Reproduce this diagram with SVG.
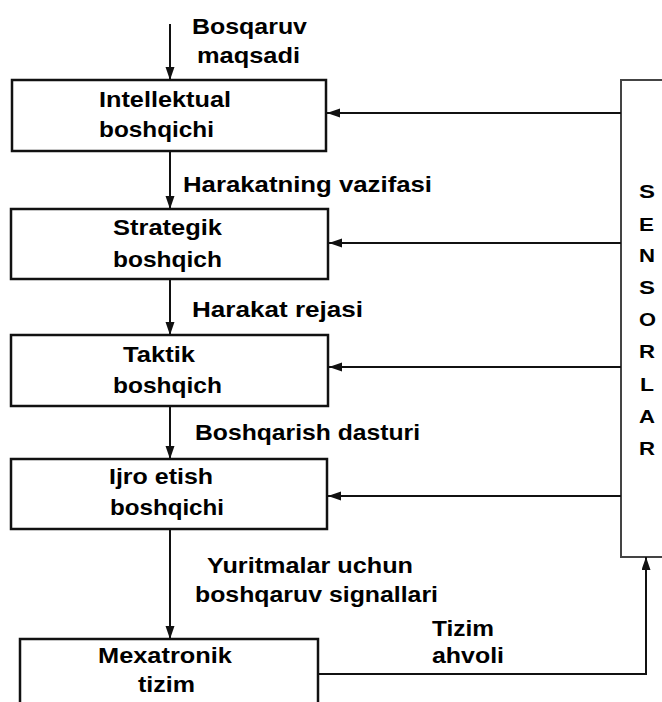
<svg xmlns="http://www.w3.org/2000/svg" width="662" height="702" viewBox="0 0 662 702">
<defs>
<style>
.box{fill:#fff;stroke:#111;stroke-width:2.5}
.sen{fill:#fff;stroke:#444;stroke-width:2}
.ln{fill:none;stroke:#111;stroke-width:2}
text{font-family:"Liberation Sans",Arial,sans-serif;font-weight:bold;font-size:22px;fill:#000}
.s{font-size:19px}
</style>
<marker id="ah" markerUnits="userSpaceOnUse" markerWidth="14" markerHeight="10" refX="13" refY="4.5" orient="auto">
<path d="M0,0 L13,4.5 L0,9 z" fill="#111"/>
</marker>
</defs>
<rect width="662" height="702" fill="#fff"/>
<g id="sensorlar">
<rect class="sen" x="621" y="80" width="50" height="477"/>
<text class="s" x="639" y="198" textLength="16" lengthAdjust="spacingAndGlyphs">S</text>
<text class="s" x="639" y="231" textLength="15" lengthAdjust="spacingAndGlyphs">E</text>
<text class="s" x="639" y="262" textLength="16" lengthAdjust="spacingAndGlyphs">N</text>
<text class="s" x="639" y="294" textLength="16" lengthAdjust="spacingAndGlyphs">S</text>
<text class="s" x="639" y="326" textLength="17" lengthAdjust="spacingAndGlyphs">O</text>
<text class="s" x="639" y="358" textLength="16" lengthAdjust="spacingAndGlyphs">R</text>
<text class="s" x="640" y="391" textLength="14" lengthAdjust="spacingAndGlyphs">L</text>
<text class="s" x="639" y="423" textLength="16" lengthAdjust="spacingAndGlyphs">A</text>
<text class="s" x="639" y="455" textLength="16" lengthAdjust="spacingAndGlyphs">R</text>
</g>
<g id="intellektual">
<rect class="box" x="12" y="80" width="314" height="71"/>
<text x="99" y="107" textLength="132" lengthAdjust="spacingAndGlyphs">Intellektual</text>
<text x="99" y="137" textLength="115" lengthAdjust="spacingAndGlyphs">boshqichi</text>
</g>
<g id="strategik">
<rect class="box" x="11" y="209" width="317" height="70"/>
<text x="113" y="235" textLength="109" lengthAdjust="spacingAndGlyphs">Strategik</text>
<text x="113" y="267" textLength="109" lengthAdjust="spacingAndGlyphs">boshqich</text>
</g>
<g id="taktik">
<rect class="box" x="11" y="335" width="317" height="71"/>
<text x="123" y="362" textLength="72" lengthAdjust="spacingAndGlyphs">Taktik</text>
<text x="113" y="393" textLength="109" lengthAdjust="spacingAndGlyphs">boshqich</text>
</g>
<g id="ijro">
<rect class="box" x="11" y="459" width="316" height="70"/>
<text x="109" y="484" textLength="104" lengthAdjust="spacingAndGlyphs">Ijro etish</text>
<text x="110" y="515" textLength="114" lengthAdjust="spacingAndGlyphs">boshqichi</text>
</g>
<g id="mexatronik">
<rect class="box" x="20" y="639" width="298" height="80"/>
<text x="98" y="663" textLength="134" lengthAdjust="spacingAndGlyphs">Mexatronik</text>
<text x="138" y="692" textLength="57" lengthAdjust="spacingAndGlyphs">tizim</text>
</g>
<g id="connectors">
<line class="ln" x1="170" y1="24" x2="170" y2="80" marker-end="url(#ah)"/>
<line class="ln" x1="170" y1="151" x2="170" y2="209" marker-end="url(#ah)"/>
<line class="ln" x1="170" y1="279" x2="170" y2="335" marker-end="url(#ah)"/>
<line class="ln" x1="170" y1="406" x2="170" y2="459" marker-end="url(#ah)"/>
<line class="ln" x1="170" y1="529" x2="170" y2="639" marker-end="url(#ah)"/>
<line class="ln" x1="621" y1="113" x2="327" y2="113" marker-end="url(#ah)"/>
<line class="ln" x1="621" y1="243" x2="329" y2="243" marker-end="url(#ah)"/>
<line class="ln" x1="621" y1="367" x2="329" y2="367" marker-end="url(#ah)"/>
<line class="ln" x1="621" y1="496" x2="328" y2="496" marker-end="url(#ah)"/>
<path class="ln" d="M318,674 H646 V557" marker-end="url(#ah)"/>
<text x="192" y="34" textLength="115" lengthAdjust="spacingAndGlyphs">Bosqaruv</text>
<text x="197" y="63" textLength="103" lengthAdjust="spacingAndGlyphs">maqsadi</text>
<text x="183" y="192" textLength="249" lengthAdjust="spacingAndGlyphs">Harakatning vazifasi</text>
<text x="192" y="317" textLength="171" lengthAdjust="spacingAndGlyphs">Harakat rejasi</text>
<text x="195" y="440" textLength="225" lengthAdjust="spacingAndGlyphs">Boshqarish dasturi</text>
<text x="207" y="573" textLength="206" lengthAdjust="spacingAndGlyphs">Yuritmalar uchun</text>
<text x="195" y="602" textLength="243" lengthAdjust="spacingAndGlyphs">boshqaruv signallari</text>
<text x="432" y="636" textLength="62" lengthAdjust="spacingAndGlyphs">Tizim</text>
<text x="432" y="663" textLength="72" lengthAdjust="spacingAndGlyphs">ahvoli</text>
</g>
</svg>
